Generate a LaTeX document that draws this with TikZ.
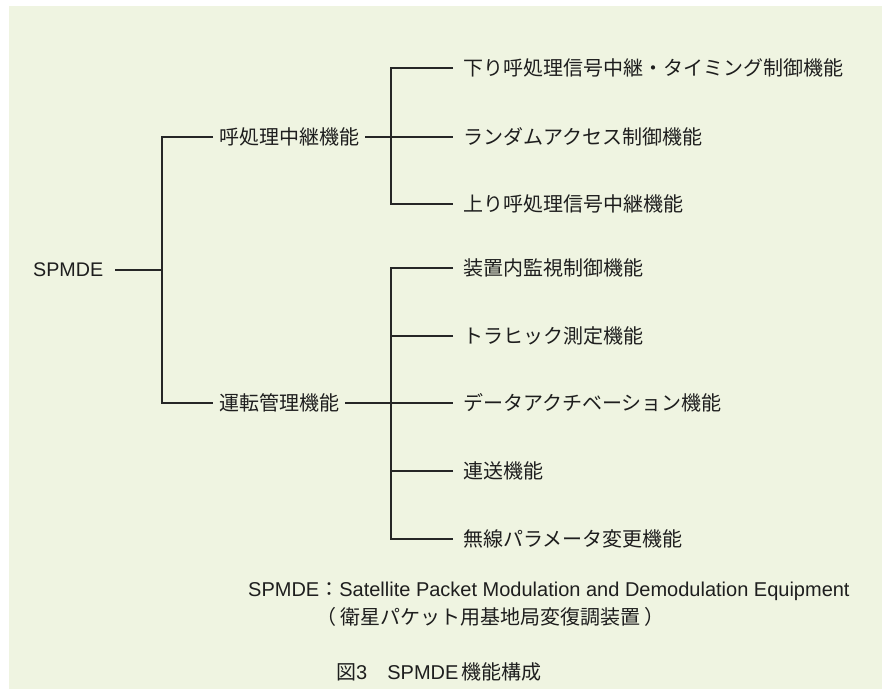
\documentclass[tikz,border=0pt]{standalone}
\usepackage{fontspec}
\setmainfont{Liberation Sans}
\newfontfamily\jp{Noto Sans CJK JP}
\definecolor{bg}{HTML}{EFF4E1}
\definecolor{ink}{HTML}{1E1E1E}
\definecolor{wire}{HTML}{262626}
\begin{document}
\begin{tikzpicture}[x=1pt,y=-1pt,
  latin/.style={font=\fontsize{19.7}{23}\selectfont},
  lbl/.style={anchor=west, inner xsep=6pt, inner ysep=0pt, text=ink, font=\fontsize{20}{24}\selectfont\jp},
  leaf/.style={lbl, inner xsep=10pt},
  wireline/.style={draw=wire, line width=1.6pt},
  note/.style={anchor=west, inner sep=0pt, text=ink, font=\fontsize{20}{24}\selectfont}
]
\useasboundingbox (0,0) rectangle (882,689);
\fill[bg] (9,6) rectangle (882,689);

% root
\node[lbl, latin, inner xsep=12pt] (spmde) at (21,270) {SPMDE};
\coordinate (j1) at (162,270);

% level 1
\node[lbl] (call) at (213,137) {呼処理中継機能};
\node[lbl] (ops)  at (213,403) {運転管理機能};

% level 2 (call processing)
\node[leaf] (c1) at (453,68)  {下り呼処理信号中継・タイミング制御機能};
\node[leaf] (c2) at (453,137) {ランダムアクセス制御機能};
\node[leaf] (c3) at (453,204) {上り呼処理信号中継機能};
\coordinate (j2) at (391,137);

% level 2 (operations)
\node[leaf] (d1) at (453,268) {装置内監視制御機能};
\node[leaf] (d2) at (453,336) {トラヒック測定機能};
\node[leaf] (d3) at (453,403) {データアクチベーション機能};
\node[leaf] (d4) at (453,471) {連送機能};
\node[leaf] (d5) at (453,539) {無線パラメータ変更機能};
\coordinate (j3) at (391,403);

% connectors
\draw[wireline] (spmde.east) -- (j1);
\draw[wireline] (call.west) -| (j1) |- (ops.west);
\draw[wireline] (call.east) -- (c2.west);
\draw[wireline] (c1.west) -| (j2) |- (c3.west);
\draw[wireline] (ops.east) -- (d3.west);
\draw[wireline] (d1.west) -| (j3) |- (d5.west);
\draw[wireline] (d2.west) -- (d2.west -| j3);
\draw[wireline] (d4.west) -- (d4.west -| j3);

% footnote and caption
\node[note] (fn1) at (248,591) {SPMDE{\jp ：}Satellite Packet Modulation and Demodulation Equipment};
\node[note] (fn2) at (316,617) {\jp （\hspace{4pt}衛星パケット用基地局変復調装置\hspace{4pt}）};
\node[note] (cap) at (336,672) {{\jp 図}3{\jp 　}SPMDE\,{\jp 機能構成}};
\end{tikzpicture}
\end{document}
